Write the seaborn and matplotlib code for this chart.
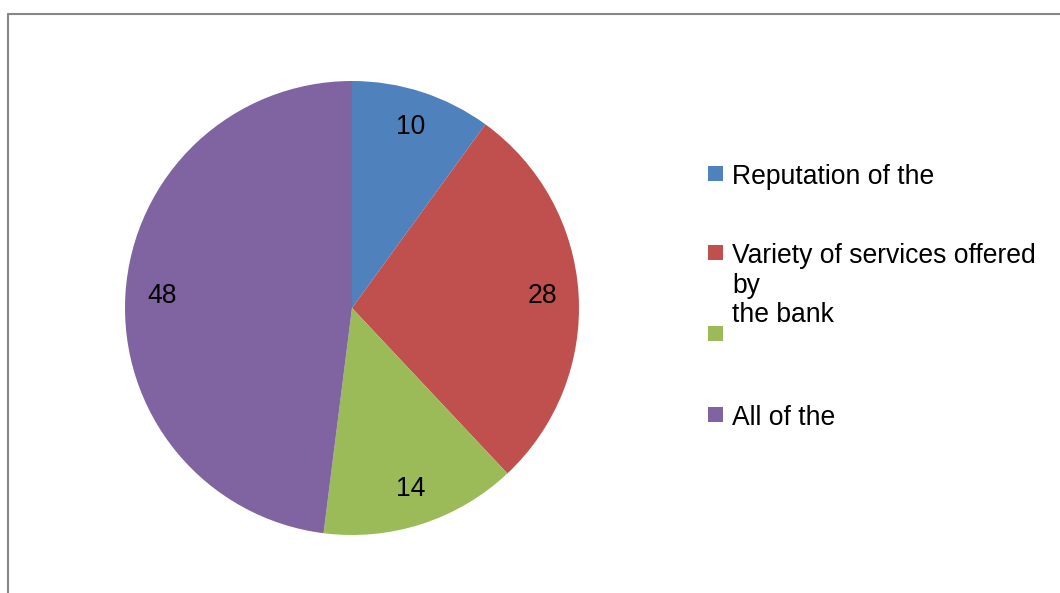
import matplotlib
matplotlib.use("Agg")
import matplotlib.pyplot as plt
from matplotlib.patches import Rectangle
from matplotlib.lines import Line2D
import seaborn as sns

# Survey data: reasons for choosing the bank
categories = ["Reputation of the", "Variety of services offered\nby\nthe bank", "", "All of the"]
values = [10, 28, 14, 48]
colors = ["#4F81BD", "#C0504D", "#9BBB59", "#8064A2"]

sns.set_style("white")
plt.rcParams["font.family"] = ["Liberation Sans", "DejaVu Sans"]

W, H = 1060, 593
fig = plt.figure(figsize=(W / 100, H / 100), dpi=100)
fig.patch.set_facecolor("white")

# Pie axes (pixel geometry converted to figure fractions)
cx, cy, r = 352, 285, 227
ax = fig.add_axes([(cx - r) / W, (cy - r) / H, 2 * r / W, 2 * r / H])
palette = sns.color_palette(colors)
wedges, texts = ax.pie(
    values,
    colors=palette,
    startangle=90,
    counterclock=False,
    labels=[str(v) for v in values],
    labeldistance=0.84,
    textprops=dict(fontsize=19.1, color="black", ha="center", va="center"),
    wedgeprops=dict(linewidth=0),
)
ax.set_xlim(-1, 1)
ax.set_ylim(-1, 1)
ax.set_aspect("equal")
ax.axis("off")

# Legend drawn entry by entry
leg_x_marker, leg_x_text = 708, 732
leg_y = [173, 252, 333, 414]
sq = 15
for lab, col, y in zip(categories, palette, leg_y):
    fig.patches.append(Rectangle(((leg_x_marker) / W, (H - y - sq / 2) / H), sq / W, sq / H,
                                 transform=fig.transFigure, facecolor=col, edgecolor="none"))
    if lab:
        fig.text(leg_x_text / W, (H - y + 9) / H, lab, fontsize=19.1, color="black",
                 ha="left", va="top", linespacing=1.18)

# Chart-area border (left and top edges)
border = "#878787"
fig.add_artist(Line2D([8 / W, 8 / W], [0, (H - 14) / H], transform=fig.transFigure,
                      color=border, linewidth=1.5))
fig.add_artist(Line2D([8 / W, 1], [(H - 14) / H, (H - 14) / H], transform=fig.transFigure,
                      color=border, linewidth=1.5))

fig.savefig("out.png", dpi=100)
